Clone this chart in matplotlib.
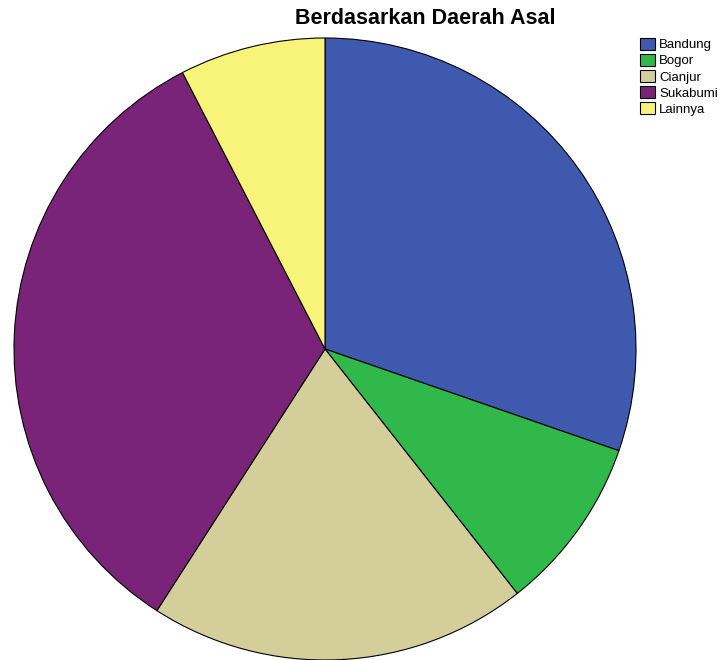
import matplotlib.pyplot as plt

# jumlah responden per daerah asal
labels = ['Bandung', 'Bogor', 'Cianjur', 'Sukabumi', 'Lainnya']
values = [20, 6, 13, 22, 5]
colors = ['#3f59ae', '#30b84a', '#d4cf9a', '#7a2479', '#f8f47a']

plt.rcParams['font.family'] = ['Liberation Sans', 'DejaVu Sans']

fig = plt.figure(figsize=(7.23, 6.6), dpi=100)
ax = fig.add_axes([0, 0, 1, 1])

wedges, _ = ax.pie(values, colors=colors, startangle=90, counterclock=False,
                   radius=1.0, wedgeprops={'edgecolor': 'black', 'linewidth': 0.8})

# posisi lingkaran dalam gambar
ax.set_aspect('auto')
ax.set_xlim(-325 / 311, (723 - 325) / 311)
ax.set_ylim((349 - 660) / 311, 349 / 311)
ax.axis('off')

fig.text(425 / 723, 1 - 19 / 660, 'Berdasarkan Daerah Asal', ha='center', va='center',
         fontsize=15.5, fontweight='bold')

leg = fig.legend(wedges, labels, loc='upper left', bbox_to_anchor=(640 / 723, 1 - 38 / 660),
                 frameon=False, fontsize=9.5, handlelength=1.1, handleheight=1.0,
                 handletextpad=0.35, labelspacing=0.2, borderpad=0, borderaxespad=0)

plt.savefig('out.png')
plt.close()
